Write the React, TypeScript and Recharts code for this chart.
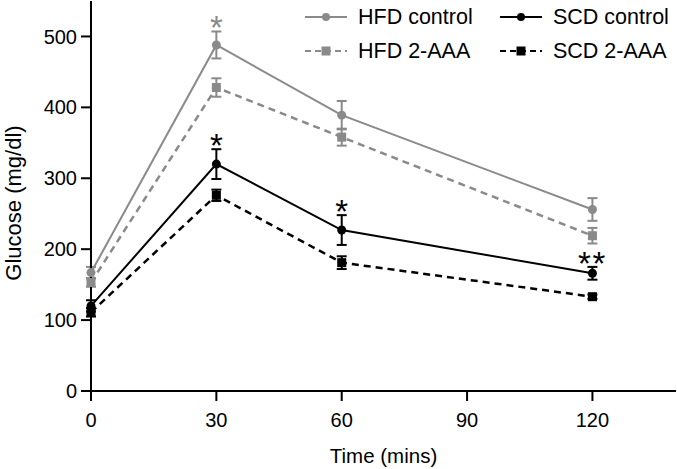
import { ErrorBar, LabelList, Line, LineChart, XAxis, YAxis } from 'recharts';

const times = [0, 30, 60, 120];
const timeTicks = [0, 30, 60, 90, 120];
const glucoseTicks = [0, 100, 200, 300, 400, 500];

const hfdControl = [167, 488, 389, 256];
const hfdControlErr = [8, 19, 20, 16];
const hfdAaa = [153, 428, 358, 219];
const hfdAaaErr = [6, 13, 12, 11];
const scdControl = [120, 320, 227, 166];
const scdControlErr = [8, 21, 21, 9];
const scdAaa = [111, 276, 181, 133];
const scdAaaErr = [6, 8, 9, 3];

const hfdSig = ['', '*', '', ''];
const scdSig = ['', '*', '*', '**'];

const GRAY = '#8a8a8a';
const BLACK = '#000000';
const FONT = '"Liberation Sans", Arial, Helvetica, sans-serif';

const data = times.map((time, i) => ({
  time,
  hfdControl: hfdControl[i],
  hfdControlErr: hfdControlErr[i],
  hfdAaa: hfdAaa[i],
  hfdAaaErr: hfdAaaErr[i],
  scdControl: scdControl[i],
  scdControlErr: scdControlErr[i],
  scdAaa: scdAaa[i],
  scdAaaErr: scdAaaErr[i],
  hfdSig: hfdSig[i],
  hfdSigAt: hfdSig[i] ? hfdControl[i] + hfdControlErr[i] : null,
  scdSig: scdSig[i],
  scdSigAt: scdSig[i] ? scdControl[i] + scdControlErr[i] : null,
}));

const legendItems = [
  { name: 'HFD control', color: GRAY, dashed: false, square: false },
  { name: 'SCD control', color: BLACK, dashed: false, square: false },
  { name: 'HFD 2-AAA', color: GRAY, dashed: true, square: true },
  { name: 'SCD 2-AAA', color: BLACK, dashed: true, square: true },
];

function squareDot(color: string) {
  return (props: any) => {
    const { cx, cy, index } = props;
    if (cx == null || cy == null) return <g key={index} />;
    return <rect key={index} x={cx - 4.5} y={cy - 4.5} width={9} height={9} fill={color} />;
  };
}

function sigLabel(color: string, labels: string[]) {
  return (props: any) => {
    const { x, y, index } = props;
    const txt = labels[index];
    if (!txt || y == null) return null;
    const wide = txt.length > 1;
    return (
      <text
        x={x}
        y={y + 8}
        textAnchor="middle"
        fontSize={33}
        fontFamily={FONT}
        fill={color}
        letterSpacing={wide ? 1.5 : 0}
      >
        {txt}
      </text>
    );
  };
}

function ChartLegend() {
  return (
    <div
      style={{
        position: 'absolute',
        left: 304,
        top: 6,
        display: 'grid',
        gridTemplateColumns: '195px 180px',
        rowGap: 12,
        fontFamily: FONT,
        fontSize: 21.5,
        color: '#000',
      }}
    >
      {legendItems.map((item) => (
        <div key={item.name} style={{ display: 'flex', alignItems: 'center', height: 22 }}>
          <svg width={44} height={14} style={{ marginRight: 10 }}>
            <line
              x1={1}
              y1={7}
              x2={43}
              y2={7}
              stroke={item.color}
              strokeWidth={2}
              strokeDasharray={item.dashed ? '6 4' : undefined}
            />
            {item.square ? (
              <rect x={17.5} y={2.5} width={9} height={9} fill={item.color} />
            ) : (
              <circle cx={22} cy={7} r={4} fill={item.color} />
            )}
          </svg>
          <span>{item.name}</span>
        </div>
      ))}
    </div>
  );
}

export default function App() {
  const axisStyle = { stroke: BLACK, strokeWidth: 2 };
  const tickStyle = { fontSize: 20, fill: '#000', fontFamily: FONT };
  return (
    <div style={{ position: 'absolute', left: 0, top: 0, width: 677, height: 469, background: '#fff' }}>
      <LineChart width={677} height={469} data={data} margin={{ top: 1, right: 1, bottom: 0, left: 0 }}>
        <XAxis
          type="number"
          dataKey="time"
          domain={[0, 140]}
          ticks={timeTicks}
          height={78}
          axisLine={axisStyle}
          tickLine={axisStyle}
          tickSize={10}
          tickMargin={12}
          tick={tickStyle}
          label={(props: any) => {
            const vb = props.viewBox;
            return (
              <text x={vb.x + vb.width / 2} y={463} textAnchor="middle" fontSize={20.5} fontFamily={FONT} fill="#000">
                Time (mins)
              </text>
            );
          }}
        />
        <YAxis
          type="number"
          domain={[0, 550]}
          ticks={glucoseTicks}
          width={91}
          axisLine={axisStyle}
          tickLine={axisStyle}
          tickSize={10}
          tickMargin={4}
          tick={tickStyle}
          label={(props: any) => {
            const vb = props.viewBox;
            const cy = vb.y + vb.height / 2 + 7;
            return (
              <text
                x={21}
                y={cy}
                transform={`rotate(-90, 21, ${cy})`}
                textAnchor="middle"
                fontSize={22}
                fontFamily={FONT}
                fill="#000"
              >
                Glucose (mg/dl)
              </text>
            );
          }}
        />
        <Line
          dataKey="hfdControl"
          stroke={GRAY}
          strokeWidth={2}
          dot={{ r: 4.5, fill: GRAY, stroke: GRAY, strokeWidth: 0 }}
          isAnimationActive={false}
          legendType="none"
        >
          <ErrorBar dataKey="hfdControlErr" width={5} stroke={GRAY} strokeWidth={2} direction="y" />
        </Line>
        <Line
          dataKey="hfdAaa"
          stroke={GRAY}
          strokeWidth={2.5}
          strokeDasharray="7 5"
          dot={squareDot(GRAY)}
          isAnimationActive={false}
          legendType="none"
        >
          <ErrorBar dataKey="hfdAaaErr" width={5} stroke={GRAY} strokeWidth={2} direction="y" />
        </Line>
        <Line
          dataKey="scdControl"
          stroke={BLACK}
          strokeWidth={2}
          dot={{ r: 4.5, fill: BLACK, stroke: BLACK, strokeWidth: 0 }}
          isAnimationActive={false}
          legendType="none"
        >
          <ErrorBar dataKey="scdControlErr" width={5} stroke={BLACK} strokeWidth={2} direction="y" />
        </Line>
        <Line
          dataKey="scdAaa"
          stroke={BLACK}
          strokeWidth={2.5}
          strokeDasharray="7 5"
          dot={squareDot(BLACK)}
          isAnimationActive={false}
          legendType="none"
        >
          <ErrorBar dataKey="scdAaaErr" width={5} stroke={BLACK} strokeWidth={2} direction="y" />
        </Line>
        <Line
          dataKey="hfdSigAt"
          stroke="none"
          dot={false}
          activeDot={false}
          isAnimationActive={false}
          legendType="none"
        >
          <LabelList dataKey="hfdSig" content={sigLabel(GRAY, hfdSig)} />
        </Line>
        <Line
          dataKey="scdSigAt"
          stroke="none"
          dot={false}
          activeDot={false}
          isAnimationActive={false}
          legendType="none"
        >
          <LabelList dataKey="scdSig" content={sigLabel(BLACK, scdSig)} />
        </Line>
      </LineChart>
      <ChartLegend />
    </div>
  );
}
